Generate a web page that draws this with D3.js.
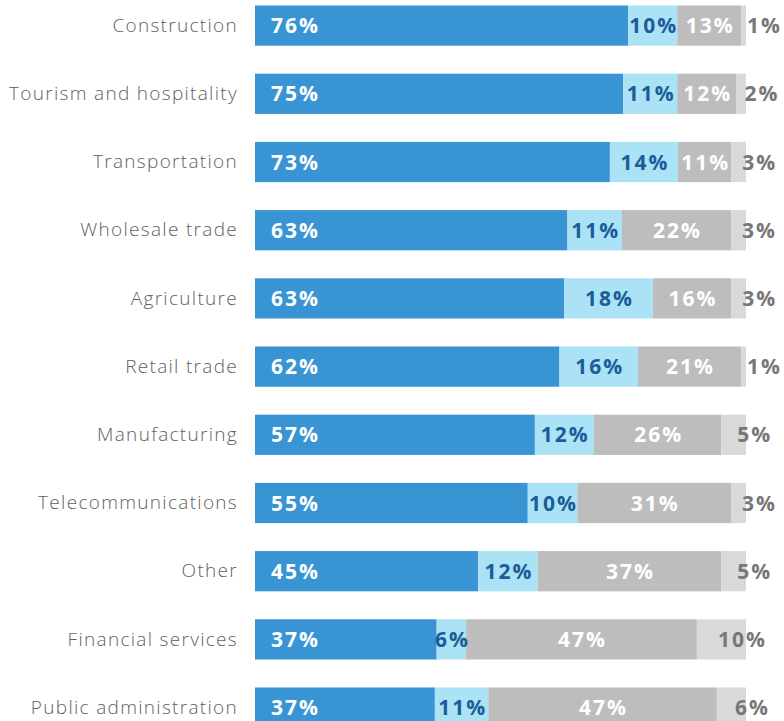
<!DOCTYPE html>
<html>
<head>
<meta charset="utf-8">
<script src="https://cdn.jsdelivr.net/npm/d3@7"></script>
<style>
  body { margin: 0; background: #fff; }
  svg { display: block; }
</style>
</head>
<body>
<div id="chart"></div>
<script>
// data
const categories = ["Construction", "Tourism and hospitality", "Transportation", "Wholesale trade",
  "Agriculture", "Retail trade", "Manufacturing", "Telecommunications", "Other",
  "Financial services", "Public administration"];
const seriesA = [76, 75, 73, 63, 63, 62, 57, 55, 45, 37, 37];
const seriesB = [10, 11, 14, 11, 18, 16, 12, 10, 12, 6, 11];
const seriesC = [13, 12, 11, 22, 16, 21, 26, 31, 37, 47, 47];
const seriesD = [1, 2, 3, 3, 3, 1, 5, 3, 5, 10, 6];

const fills = ["#3994d3", "#abe2f5", "#bdbdbd", "#d9d9d9"];
const labelColors = ["#ffffff", "#1a5d99", "#ffffff", "#777777"];

const width = 784, height = 721;
const svg = d3.select("#chart").append("svg").attr("width", width).attr("height", height);

const rows = categories.map((c, i) => {
  const vals = [seriesA[i], seriesB[i], seriesC[i], seriesD[i]];
  const total = d3.sum(vals);
  let acc = 0;
  const segs = vals.map((v, k) => {
    const s = { k, v, x0: acc / total, x1: (acc + v) / total };
    acc += v;
    return s;
  });
  return { c, segs };
});

const x = d3.scaleLinear().domain([0, 1]).range([255, 746]);
const y = d3.scaleBand().domain(categories).range([-8.5, 741.7]).paddingInner(0.41).paddingOuter(0.205);

// category labels
svg.append("g").selectAll("text")
  .data(categories)
  .join("text")
  .attr("x", 238)
  .attr("y", d => y(d) + y.bandwidth() / 2)
  .attr("dy", "0.33em")
  .attr("text-anchor", "end")
  .style("font", "300 19px 'Open Sans', sans-serif")
  .style("letter-spacing", "1.3px")
  .style("fill", "#5f5f5f")
  .text(d => d);

const rowG = svg.append("g").selectAll("g")
  .data(rows)
  .join("g")
  .attr("transform", d => `translate(0,${y(d.c)})`);

rowG.selectAll("rect")
  .data(d => d.segs)
  .join("rect")
  .attr("x", s => x(s.x0))
  .attr("width", s => x(s.x1) - x(s.x0))
  .attr("height", y.bandwidth())
  .attr("fill", s => fills[s.k]);

rowG.selectAll("text")
  .data(d => d.segs)
  .join("text")
  .attr("x", s => {
    if (s.k === 0) return x(s.x0) + 16;
    const mid = (x(s.x0) + x(s.x1)) / 2 + 1;
    return s.k === 3 ? mid + 20 : mid;
  })
  .attr("y", y.bandwidth() / 2)
  .attr("dy", "0.36em")
  .attr("text-anchor", s => s.k === 0 ? "start" : "middle")
  .style("font", "bold 21px 'Open Sans', sans-serif")
  .style("letter-spacing", "2px")
  .style("fill", s => labelColors[s.k])
  .text(s => s.v + "%");
</script>
</body>
</html>
